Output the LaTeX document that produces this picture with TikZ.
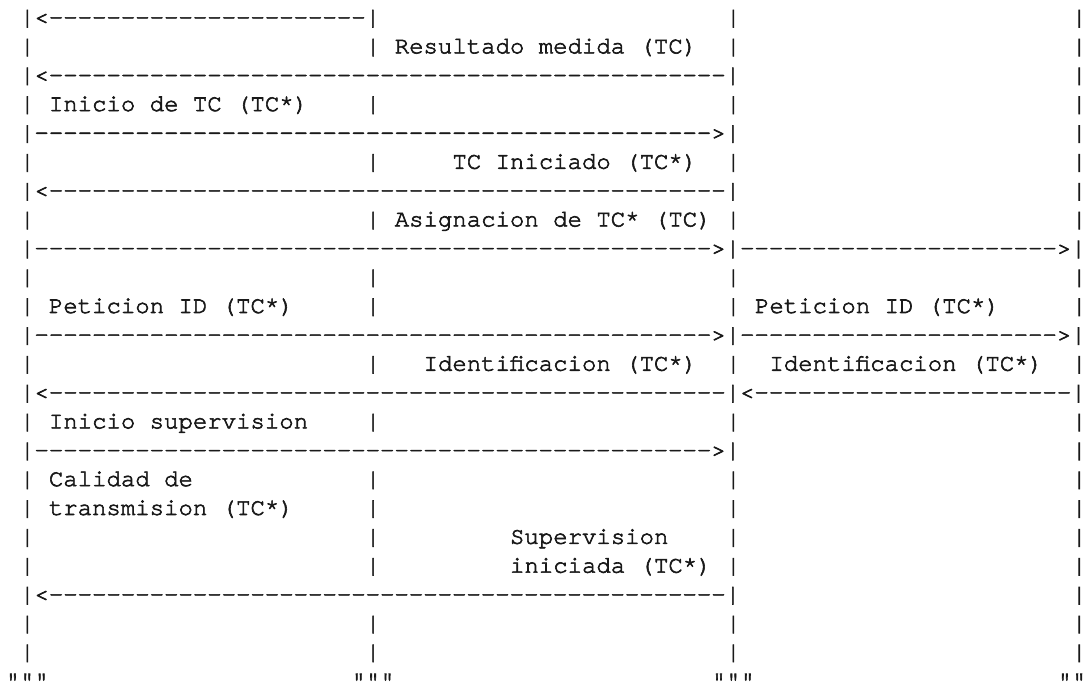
\documentclass[tikz,border=0pt]{standalone}
\usepackage{fontspec}
\setmonofont{texgyrecursor-regular.otf}[Ligatures=TeXOff,FakeBold=2.5]
\ExplSyntaxOn
\cs_new:Npn \myrep #1#2 { \prg_replicate:nn {#1} {#2} }
\ExplSyntaxOff
\tikzset{
  seg/.style={anchor=base west, inner sep=0pt, outer sep=0pt,
    font=\ttfamily\fontsize{18}{21}\selectfont, text=black!90}
}
\newcommand\seg[4]{\node[seg] (#1) at ({20.1+14.41*(#2)},{24.5+28.85*((#3)-1)}) {#4};}
\begin{document}
\begin{tikzpicture}[x=0.75pt,y=-0.75pt]
\fill[white] (0,0) rectangle (1090,684);
\useasboundingbox (0,0) rectangle (1090,684);
% lifeline pieces
\foreach \r/\c in {1/49,1/73,
  2/0,2/24,2/49,2/73, 3/73,
  4/0,4/24,4/49,4/73, 5/73,
  6/0,6/24,6/49,6/73, 7/73,
  8/0,8/24,8/49,8/73,
  10/0,10/24,10/49,10/73,
  11/0,11/24,11/49,11/73,
  13/0,13/24,13/49,13/73,
  15/0,15/24,15/49,15/73, 16/73,
  17/0,17/24,17/49,17/73,
  18/0,18/24,18/49,18/73,
  19/0,19/24,19/49,19/73,
  20/0,20/24,20/49,20/73, 21/73,
  22/0,22/24,22/49,22/73,
  23/0,23/24,23/49,23/73}
  \node[seg] (p\r-\c) at ({20.1+14.41*\c},{24.5+28.85*(\r-1)}) {|};
% arrows
\seg{a1}{0}{1}{|<\myrep{22}{-}|}
\seg{a3}{0}{3}{|<\myrep{47}{-}|}
\seg{a5}{0}{5}{|\myrep{47}{-}>|}
\seg{a7}{0}{7}{|<\myrep{47}{-}|}
\seg{a9}{0}{9}{|\myrep{47}{-}>|\myrep{22}{-}>|}
\seg{a12}{0}{12}{|\myrep{47}{-}>|\myrep{22}{-}>|}
\seg{a14}{0}{14}{|<\myrep{47}{-}|<\myrep{22}{-}|}
\seg{a16}{0}{16}{|\myrep{47}{-}>|}
\seg{a21}{0}{21}{|<\myrep{47}{-}|}
% labels
\seg{t2}{26}{2}{Resultado medida (TC)}
\seg{t4}{2}{4}{Inicio de TC (TC*)}
\seg{t6}{30}{6}{TC Iniciado (TC*)}
\seg{t8}{26}{8}{Asignacion de TC* (TC)}
\seg{t11a}{2}{11}{Peticion ID (TC*)}
\seg{t11b}{51}{11}{Peticion ID (TC*)}
\seg{t13a}{28}{13}{Identificacion (TC*)}
\seg{t13b}{52}{13}{Identificacion (TC*)}
\seg{t15}{2}{15}{Inicio supervision}
\seg{t17}{2}{17}{Calidad de}
\seg{t18}{2}{18}{transmision (TC*)}
\seg{t19}{34}{19}{Supervision}
\seg{t20}{34}{20}{iniciada (TC*)}
% bottom marks
\seg{q1}{-1}{24}{"""}
\seg{q2}{23}{24}{"""}
\seg{q3}{48}{24}{"""}
\seg{q4}{72}{24}{""}
\end{tikzpicture}
\end{document}
